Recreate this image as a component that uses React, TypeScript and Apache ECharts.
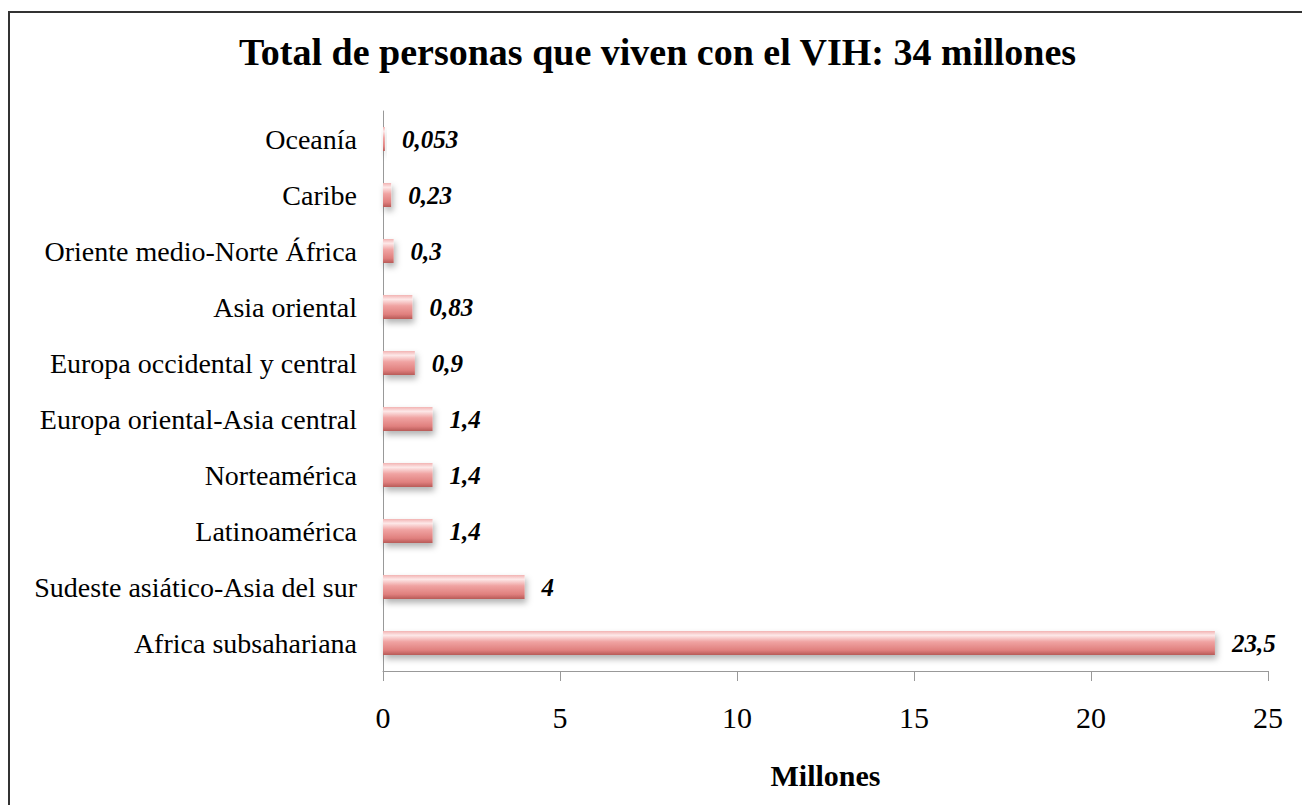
import React, { useEffect, useRef } from "react";
import * as echarts from "echarts";

const categories = [
  "Africa subsahariana",
  "Sudeste asiático-Asia del sur",
  "Latinoamérica",
  "Norteamérica",
  "Europa oriental-Asia central",
  "Europa occidental y central",
  "Asia oriental",
  "Oriente medio-Norte África",
  "Caribe",
  "Oceanía",
];
const values = [23.5, 4, 1.4, 1.4, 1.4, 0.9, 0.83, 0.3, 0.23, 0.053];
const xTicks = { min: 0, max: 25, interval: 5 };
const titleText = "Total de personas que viven con el VIH: 34 millones";
const axisName = "Millones";

const FONT = "'Liberation Serif', serif";

export default function App() {
  const ref = useRef<HTMLDivElement>(null);
  useEffect(() => {
    if (!ref.current) return;
    const chart = echarts.init(ref.current, null, { renderer: "svg" });
    chart.setOption({
      animation: false,
      backgroundColor: "#ffffff",
      title: {
        text: titleText,
        left: 234,
        top: 28,
        textStyle: { fontFamily: FONT, fontSize: 38, fontWeight: "bold", color: "#000" },
      },
      graphic: [
        {
          type: "rect",
          shape: { x: 9, y: 12, width: 1400, height: 1000 },
          style: { fill: "none", stroke: "#333", lineWidth: 2 },
          silent: true,
        },
      ],
      grid: { left: 383, right: 34, top: 111, bottom: 134 },
      xAxis: {
        type: "value",
        min: xTicks.min,
        max: xTicks.max,
        interval: xTicks.interval,
        name: axisName,
        nameLocation: "middle",
        nameGap: 89,
        nameTextStyle: { fontFamily: FONT, fontSize: 30, fontWeight: "bold", color: "#000" },
        axisLine: { show: true, lineStyle: { color: "#999", width: 1 } },
        axisTick: { show: true, length: 10, lineStyle: { color: "#999" } },
        splitLine: { show: false },
        axisLabel: { fontFamily: FONT, fontSize: 30, color: "#000", margin: 31 },
      },
      yAxis: {
        type: "category",
        data: categories,
        axisLine: { show: true, lineStyle: { color: "#999", width: 1 } },
        axisTick: { show: false },
        axisLabel: { fontFamily: FONT, fontSize: 28, color: "#000", margin: 26 },
      },
      series: [
        {
          type: "bar",
          data: values,
          barWidth: 24,
          itemStyle: {
            color: new echarts.graphic.LinearGradient(0, 0, 0, 1, [
              { offset: 0, color: "#f2b3b2" },
              { offset: 0.18, color: "#fde8e8" },
              { offset: 0.45, color: "#f0a3a2" },
              { offset: 0.8, color: "#e0807e" },
              { offset: 1, color: "#b85a58" },
            ]),
            shadowColor: "rgba(0,0,0,0.3)",
            shadowBlur: 6,
            shadowOffsetX: 2,
            shadowOffsetY: 4,
          },
          label: {
            show: true,
            position: "right",
            distance: 17,
            fontFamily: FONT,
            fontSize: 25,
            fontWeight: "bold",
            fontStyle: "italic",
            color: "#000",
            formatter: (p: any) => String(p.value).replace(".", ","),
          },
        },
      ],
    });
    return () => chart.dispose();
  }, []);
  return (
    <div
      ref={ref}
      style={{ position: "fixed", left: 0, top: 0, width: 1302, height: 805 }}
    />
  );
}
